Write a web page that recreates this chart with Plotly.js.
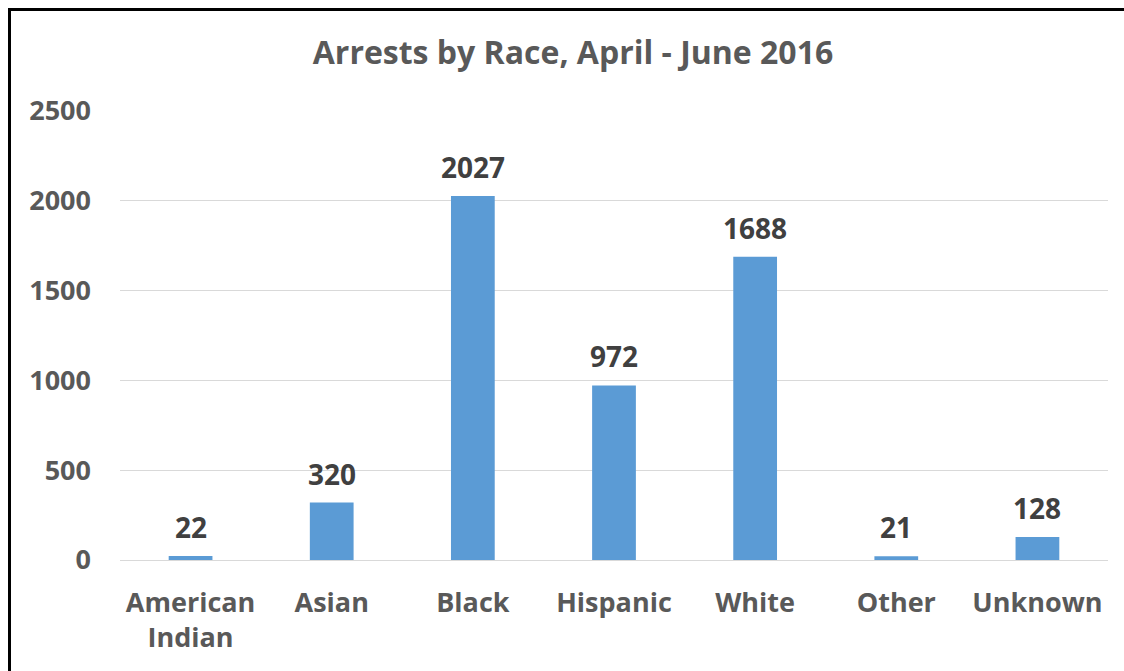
<!DOCTYPE html>
<html>
<head>
<meta charset="utf-8">
<script src="https://cdn.plot.ly/plotly-3.0.1.min.js"></script>
<style>
html,body{margin:0;padding:0;overflow:hidden;background:#fff;}
#chart{width:1124px;height:671px;}
#frame{position:absolute;left:8px;top:8px;width:1300px;height:900px;border:3px solid #000;pointer-events:none;}
</style>
</head>
<body>
<div id="chart"></div>
<div id="frame"></div>
<script>
const categories = ["American<br>Indian", "Asian", "Black", "Hispanic", "White", "Other", "Unknown"];
const arrests = [22, 320, 2027, 972, 1688, 21, 128];
const yTicks = [0, 500, 1000, 1500, 2000, 2500];
const chartTitle = "Arrests by Race, April - June 2016";

const FONT = "Open Sans, Lato, sans-serif";

const trace = {
  type: "bar",
  x: categories,
  y: arrests,
  marker: {color: "#5B9BD5"},
  hoverinfo: "x+y"
};

const annotations = categories.map((c, i) => ({
  x: c, y: arrests[i], xref: "x", yref: "y",
  text: String(arrests[i]),
  showarrow: false, yanchor: "bottom", yshift: 8,
  font: {family: FONT, size: 28, color: "#404040", weight: 700}
}));

const layout = {
  width: 1124, height: 671,
  margin: {l: 120, r: 16, t: 111, b: 111},
  paper_bgcolor: "#fff", plot_bgcolor: "#fff",
  bargap: 0.69,
  showlegend: false,
  title: {
    text: chartTitle,
    x: 573/1124, xref: "container", xanchor: "center",
    y: 1 - 53/671, yref: "container", yanchor: "middle",
    font: {family: FONT, size: 32, color: "#595959", weight: 700}
  },
  xaxis: {
    type: "category",
    showgrid: false, zeroline: false, showline: false,
    ticks: "", ticklabelstandoff: 24,
    tickfont: {family: FONT, size: 27, color: "#595959", weight: 700}
  },
  yaxis: {
    range: [0, 2500],
    tickvals: yTicks, ticktext: yTicks.map(String),
    showgrid: true, gridcolor: "#D9D9D9", gridwidth: 1,
    zeroline: true, zerolinecolor: "#D9D9D9", zerolinewidth: 1,
    showline: false, ticks: "", ticklabelstandoff: 28,
    tickfont: {family: FONT, size: 27, color: "#595959", weight: 700}
  },
  annotations: annotations
};

Plotly.newPlot("chart", [trace], layout, {displayModeBar: false, staticPlot: true});
</script>
</body>
</html>
